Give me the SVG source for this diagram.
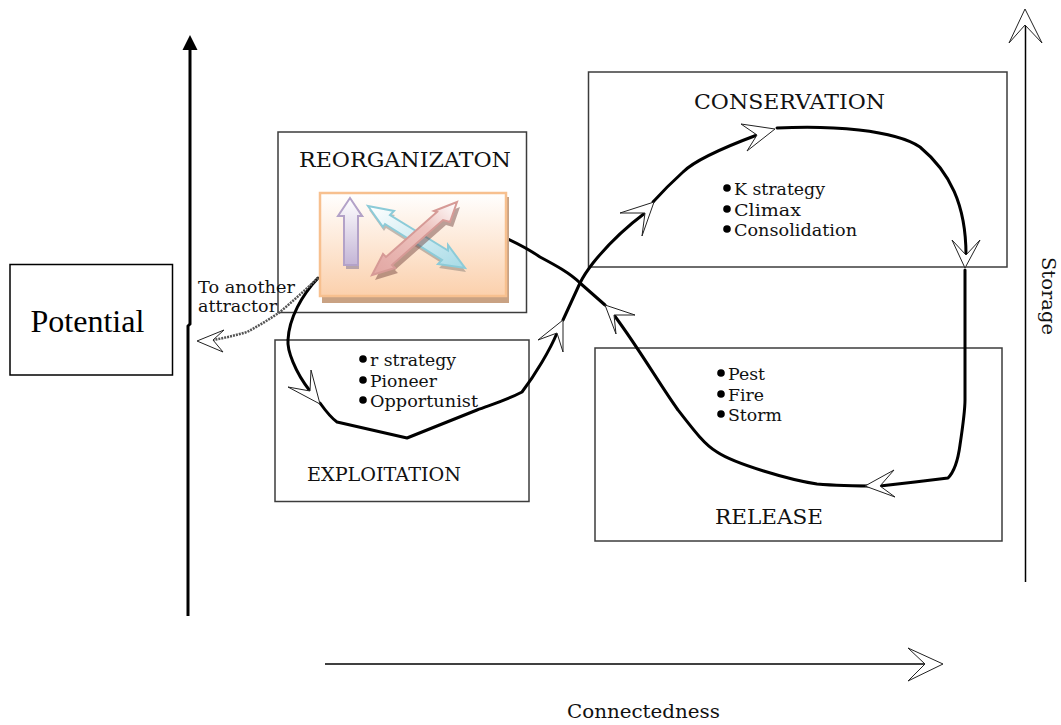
<svg xmlns="http://www.w3.org/2000/svg" width="1061" height="725" viewBox="0 0 1061 725">
<defs>
<linearGradient id="bg" x1="0" y1="0" x2="0" y2="1"><stop offset="0" stop-color="#ffffff"/><stop offset="1" stop-color="#fbd0ac"/></linearGradient>
<linearGradient id="pg" x1="0" y1="0" x2="0" y2="1"><stop offset="0" stop-color="#ffffff"/><stop offset="1" stop-color="#c4b5d6"/></linearGradient>
<linearGradient id="bl" x1="0" y1="0" x2="1" y2="1"><stop offset="0" stop-color="#ffffff"/><stop offset="1" stop-color="#a6dae6"/></linearGradient>
<linearGradient id="rd" x1="1" y1="0" x2="0" y2="1"><stop offset="0" stop-color="#ffffff"/><stop offset=".35" stop-color="#eec4c0"/><stop offset="1" stop-color="#e2a6a2"/></linearGradient>
</defs>
<style>
.box{fill:none;stroke:#3c3c3c;stroke-width:1.5}
.curve{fill:none;stroke:#000;stroke-width:3;stroke-linejoin:round;stroke-linecap:round}
.head{fill:#fff;stroke:#222;stroke-width:1;stroke-linejoin:miter}
.t{font-family:"DejaVu Serif","Liberation Serif",serif;fill:#111}
.h{font-size:21px}
.s{font-size:18px}
.b{font-size:17px}
.ax{stroke:#000;fill:none}
</style>
<g id="axes">
<path class="ax" stroke-width="3" d="M190 48V324L188 326V616"/>
<path d="M190 35L197.500 50H182.500Z" fill="#000"/>
<path class="ax" stroke-width="1.500" d="M1025.500 25V582"/>
<path class="head" d="M1025 9L1009 43L1025 25L1042 43Z"/>
<path class="ax" stroke-width="1.500" d="M325 664H925"/>
<path class="head" d="M943 664L908 648L925 664L908 681Z"/>
<text class="t s" transform="translate(1042 257) rotate(90)" textLength="78" lengthAdjust="spacingAndGlyphs">Storage</text>
<text class="t s" x="567" y="718" textLength="153" lengthAdjust="spacingAndGlyphs">Connectedness</text>
</g>
<g id="potential">
<rect x="10" y="264.500" width="162.500" height="110.500" fill="#fff" stroke="#000" stroke-width="1.500"/>
<text x="30.500" y="332" font-family="'Liberation Serif',serif" font-size="32" fill="#000">Potential</text>
</g>
<g id="reorganization">
<rect class="box" x="278" y="132" width="248.500" height="180.500"/>
<text class="t h" x="299" y="167" textLength="212" lengthAdjust="spacingAndGlyphs">REORGANIZATON</text>
</g>
<g id="exploitation">
<rect class="box" x="275" y="340" width="254" height="161.500"/>
<text class="t s" x="307" y="481" textLength="154" lengthAdjust="spacingAndGlyphs">EXPLOITATION</text>
<circle cx="363" cy="359" r="3.800"/><circle cx="363" cy="380" r="3.800"/><circle cx="363" cy="400" r="3.800"/>
<text class="t b" x="370" y="366" textLength="86" lengthAdjust="spacingAndGlyphs">r strategy</text>
<text class="t b" x="370" y="387" textLength="67" lengthAdjust="spacingAndGlyphs">Pioneer</text>
<text class="t b" x="370" y="407" textLength="108" lengthAdjust="spacingAndGlyphs">Opportunist</text>
</g>
<g id="conservation">
<rect class="box" x="588.500" y="72" width="418.500" height="195"/>
<text class="t h" x="694" y="109" textLength="191" lengthAdjust="spacingAndGlyphs">CONSERVATION</text>
<circle cx="727" cy="188" r="3.800"/><circle cx="727" cy="209" r="3.800"/><circle cx="727" cy="229" r="3.800"/>
<text class="t b" x="734" y="195" textLength="91" lengthAdjust="spacingAndGlyphs">K strategy</text>
<text class="t b" x="734" y="216" textLength="67" lengthAdjust="spacingAndGlyphs">Climax</text>
<text class="t b" x="734" y="236" textLength="123" lengthAdjust="spacingAndGlyphs">Consolidation</text>
</g>
<g id="release">
<rect class="box" x="595" y="348" width="407" height="193"/>
<text class="t h" x="715" y="524" textLength="108" lengthAdjust="spacingAndGlyphs">RELEASE</text>
<circle cx="721" cy="373" r="3.800"/><circle cx="721" cy="394" r="3.800"/><circle cx="721" cy="414" r="3.800"/>
<text class="t b" x="728" y="380" textLength="37" lengthAdjust="spacingAndGlyphs">Pest</text>
<text class="t b" x="728" y="401" textLength="36" lengthAdjust="spacingAndGlyphs">Fire</text>
<text class="t b" x="728" y="421" textLength="54" lengthAdjust="spacingAndGlyphs">Storm</text>
</g>
<g id="connectors">
<path class="curve" d="M508 239C525 247 533 252 540 257C555 265 570 273 580 283L605 305"/>
<path class="curve" d="M614 315C640 350 660 385 678 410C695 432 705 445 717 452C735 464 790 480 817 484C840 486 860 486 880 486L915 482L948 478C954 472 958 460 960 445C963 425 965 410 965 400V270"/>
<path class="curve" d="M966 255C966 205 950 172 920 147C895 130 830 125 777 128"/>
<path class="curve" d="M757 135C725 147 695 160 683 172C672 182 662 192 653 202"/>
<path class="curve" d="M645 213C625 228 605 248 593 263C586 272 583 277 580 283L563 320"/>
<path class="curve" d="M557 333C550 350 535 375 522 392C505 401 490 405 477 410L407 438L337 422C330 417 325 410 320 403"/>
<path class="curve" d="M310 391C295 372 287 350 288 340C289 318 302 295 318 278"/>
<path d="M318 278Q300 295 280 312Q264 323 247 332Q230 337 213 340" fill="none" stroke="#555" stroke-width="2.500" stroke-dasharray="2 1"/>
</g>
<g id="arrowheads">
<path class="head" d="M197 341L224 330L213 340L223 352Z"/>
<path class="head" d="M320 404L311 370L310 391L288 387Z"/>
<path class="head" d="M563 320L563 352L557 333L538 340Z"/>
<path class="head" d="M654 202L642 236L645 213L620 213Z"/>
<path class="head" d="M775 129L741 124L757 135L747 151Z"/>
<path class="head" d="M965 268L952 240L966 255L980 240Z"/>
<path class="head" d="M865 486L894 470L880 486L895 497Z"/>
<path class="head" d="M605 305L635 315L614 315L616 334Z"/>
</g>
<g id="icon">
<rect x="322" y="197" width="187" height="106" fill="#c9a283"/>
<rect x="320" y="193" width="186" height="103" fill="url(#bg)" stroke="#f7c08f" stroke-width="2.500"/>
<path d="M351 199L364 217H359V269H346V217H340Z" fill="#8a7f98" opacity=".6"/>
<path d="M350 198L362 216H358V265H344V216H338Z" fill="url(#pg)" stroke="#b3a2c8" stroke-width="2"/>
<path d="M368 206L394 211L390 215L448 250.500L448 245L465 268L438 264L442 260L385 224L383 227Z" fill="#555" opacity=".35" transform="translate(1 4)"/>
<path d="M368 206L394 211L390 215L448 250.500L448 245L465 268L438 264L442 260L385 224L383 227Z" fill="url(#bl)" stroke="#8ccbd8" stroke-width="2"/>
<path d="M457 202L450 222L443 220L392 265L395 268L372 275L383 254L386 257L437 212L434 211Z" fill="#6a3a35" opacity=".45" transform="translate(3 5)"/>
<path d="M457 202L450 222L443 220L392 265L395 268L372 275L383 254L386 257L437 212L434 211Z" fill="url(#rd)" stroke="#d69a96" stroke-width="2"/>
</g>
<g id="attractor">
<text class="t b" x="198" y="293" textLength="97" lengthAdjust="spacingAndGlyphs">To another</text>
<text class="t b" x="198" y="312" textLength="79" lengthAdjust="spacingAndGlyphs">attractor</text>
</g>
</svg>
